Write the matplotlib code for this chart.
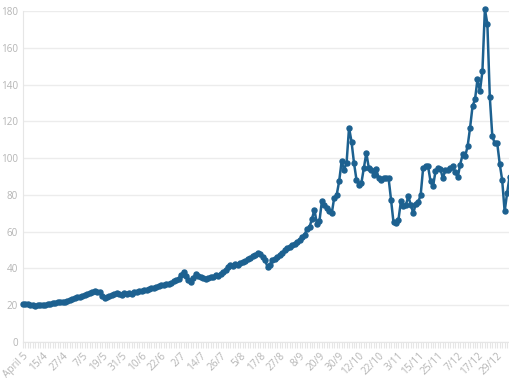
import matplotlib
matplotlib.use("Agg")
import matplotlib.pyplot as plt
from matplotlib.ticker import FixedLocator, MultipleLocator

# daily closing values (one per trading day)
prices = [
    20.5, 20.7, 20.4, 20.1, 19.9, 19.7, 19.9, 20.0, 20.3, 20.2,
    20.6, 20.9, 21.2, 21.4, 21.6, 21.5, 21.8, 22.0, 22.4, 23.0,
    23.6, 24.0, 24.2, 24.6, 24.9, 25.3, 25.9, 26.6, 27.0, 27.6,
    27.4, 27.0, 25.2, 23.9, 24.6, 25.1, 25.4, 26.0, 26.5, 26.2,
    25.8, 26.4, 26.2, 26.6, 26.3, 27.0, 27.2, 27.6, 28.0, 28.4,
    28.3, 29.0, 29.2, 29.6, 30.0, 30.3, 30.8, 31.0, 31.5, 31.8,
    32.3, 33.0, 33.6, 34.5, 36.5, 38.3, 35.8, 33.8, 32.8, 35.0,
    37.2, 36.0, 35.4, 34.6, 34.2, 35.0, 35.6, 35.3, 36.3, 36.1,
    37.0, 37.8, 39.2, 40.6, 41.8, 41.3, 42.4, 42.1, 43.2, 43.6,
    44.3, 44.9, 45.6, 46.8, 47.5, 48.4, 47.6, 46.2, 44.5, 40.8,
    42.0, 44.6, 45.3, 46.0, 47.4, 48.6, 49.9, 51.0, 51.8, 52.6,
    53.4, 54.5, 55.6, 56.9, 58.3, 61.5, 62.5, 67.0, 72.0, 64.0,
    65.6, 76.5, 74.7, 73.0, 71.5, 70.0, 78.5, 80.0, 87.4, 98.3,
    93.7, 97.4, 116.5, 109.0, 97.4, 88.3, 85.6, 86.5, 94.5, 102.8,
    94.7, 93.7, 91.0, 94.0, 89.2, 88.3, 89.0, 89.2, 89.2, 77.4,
    65.0, 64.7, 66.5, 76.5, 73.8, 74.5, 79.2, 74.7, 70.0, 75.0,
    76.0, 80.0, 94.6, 95.5, 95.5, 87.3, 84.6, 92.8, 94.6, 94.0,
    89.0, 93.7, 93.7, 94.6, 95.5, 92.5, 89.5, 96.5, 102.0, 101.0,
    106.4, 116.5, 128.2, 131.9, 142.8, 136.4, 147.3, 181.0, 173.0, 133.0,
    112.0, 108.0, 108.0, 97.0, 88.0, 71.0, 81.0, 90.0,
]

date_labels = [
    "April 5", "15/4", "27/4", "7/5", "19/5", "31/5", "10/6", "22/6",
    "2/7", "14/7", "26/7", "5/8", "17/8", "27/8", "8/9", "20/9",
    "30/9", "12/10", "22/10", "3/11", "15/11", "25/11", "7/12", "17/12",
    "29/12",
]
label_step = 8
y_ticks = [0, 20, 40, 60, 80, 100, 120, 140, 160, 180]

plt.rcParams['font.family'] = ['Open Sans', 'DejaVu Sans']

fig = plt.figure(figsize=(5.1, 3.82), dpi=100)
ax = fig.add_axes([23 / 510, 40 / 382, 487 / 510, 331 / 382])

x = list(range(len(prices)))
ax.plot(x, prices, color='#1d6190', lw=1.8, marker='o', markersize=3.6,
        clip_on=False, zorder=3)

ax.set_ylim(0, 180)
ax.set_xlim(0, (510 - 23) / 2.47)

ax.set_yticks(y_ticks)
ax.grid(axis='y', color='#ececec', lw=1)
ax.set_axisbelow(True)

ax.xaxis.set_major_locator(FixedLocator([i * label_step for i in range(len(date_labels))]))
ax.set_xticklabels(date_labels, rotation=45, ha='right', rotation_mode='anchor')
ax.xaxis.set_minor_locator(MultipleLocator(1))

ax.tick_params(axis='x', which='both', length=4, color='#e6e6e6', width=0.8,
               labelsize=7.3, labelcolor='#b5b5b5', pad=2)
ax.tick_params(axis='y', length=0, labelsize=7.1, labelcolor='#b5b5b5', pad=3.8)

for side in ['top', 'right']:
    ax.spines[side].set_visible(False)
ax.spines['left'].set_color('#e6e6e6')
ax.spines['bottom'].set_color('#e6e6e6')

fig.savefig('out.png', dpi=100)
